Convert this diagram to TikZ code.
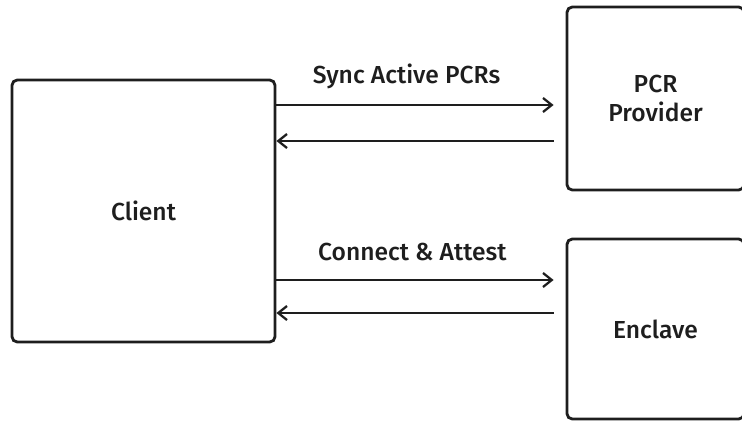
\documentclass[tikz,border=0pt]{standalone}
\usepackage{fontspec}
\setmainfont{Fira Sans}[BoldFont={Fira Sans Medium}]
\usetikzlibrary{arrows.meta, positioning}

\definecolor{ink}{HTML}{1E1E1E}

\tikzset{
  block/.style={draw=ink, line width=1.6pt, rounded corners=3pt, align=center,
    text=ink, font=\fontsize{14}{17}\selectfont\bfseries},
  lbl/.style={text=ink, font=\fontsize{14}{17}\selectfont\bfseries},
  flow/.style={draw=ink, line width=1.3pt, -{Straight Barb[length=5pt, width=8pt]}}
}

\begin{document}
\begin{tikzpicture}[x=0.02cm, y=-0.02cm]
  \useasboundingbox (0,0) rectangle (742,420);
  \clip (0,0) rectangle (742,420);
  % boxes
  \node[block, minimum width=263*0.02cm, minimum height=262*0.02cm] (client) at (143.5,211) {Client};
  \node[block, minimum width=177*0.02cm, minimum height=183*0.02cm] (pcr) at (655.5,98.5) {PCR\\Provider};
  \node[block, minimum width=177*0.02cm, minimum height=180*0.02cm] (enclave) at (655.5,329) {Enclave};
  % connectors
  \draw[flow, shorten >=12*0.02cm] (client.east |- 0,105) -- node[lbl, pos=0.45, above=5pt] (sync) {Sync Active PCRs} (pcr.west |- 0,105);
  \draw[flow, shorten <=12*0.02cm] (pcr.west |- 0,141) -- (client.east |- 0,141);
  \draw[flow, shorten >=12*0.02cm] (client.east |- 0,280) -- node[lbl, pos=0.47, above=7pt] (attest) {Connect \& Attest} (enclave.west |- 0,280);
  \draw[flow, shorten <=12*0.02cm] (enclave.west |- 0,313) -- (client.east |- 0,313);
\end{tikzpicture}
\end{document}
